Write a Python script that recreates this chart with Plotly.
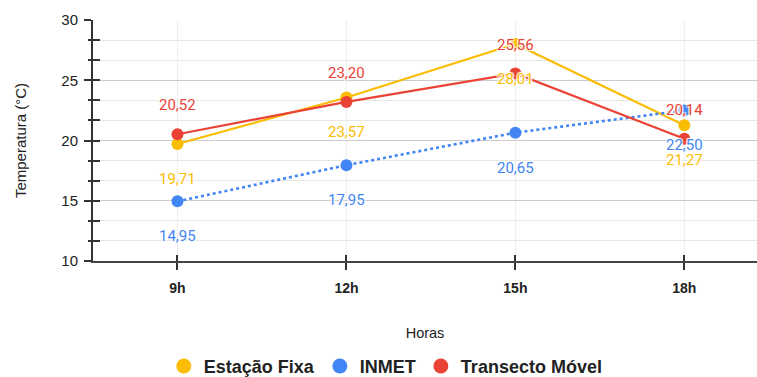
import plotly.graph_objects as go

horas = ["9h", "12h", "15h", "18h"]
estacao_fixa = [19.71, 23.57, 28.01, 21.27]
inmet = [14.95, 17.95, 20.65, 22.50]
transecto = [20.52, 23.20, 25.56, 20.14]

AMARELO = "#FBBC04"
AZUL = "#4285F4"
VERMELHO = "#EA4335"

xs = list(range(len(horas)))
fig = go.Figure()

# series (Google-like order: yellow, blue, red on top)
fig.add_trace(go.Scatter(x=xs, y=estacao_fixa, mode="lines+markers", showlegend=False,
                         line=dict(color=AMARELO, width=2.2), marker=dict(size=12, color=AMARELO)))
fig.add_trace(go.Scatter(x=xs, y=inmet, mode="lines+markers", showlegend=False,
                         line=dict(color=AZUL, width=2.6, dash="dot"), marker=dict(size=12, color=AZUL)))
fig.add_trace(go.Scatter(x=xs, y=transecto, mode="lines+markers", showlegend=False,
                         line=dict(color=VERMELHO, width=2.2), marker=dict(size=12, color=VERMELHO)))

# legend entries (just circles)
for nome, cor in [("Estação Fixa", AMARELO), ("INMET", AZUL), ("Transecto Móvel", VERMELHO)]:
    fig.add_trace(go.Scatter(x=[None], y=[None], mode="markers", name=nome,
                             marker=dict(size=15, color=cor), xaxis="x2", yaxis="y2"))

halo = "1px 1px 1px white, -1px -1px 1px white, 1px -1px 1px white, -1px 1px 1px white"

def fmt(v):
    return f"{v:.2f}".replace(".", ",")

# data labels
for serie, cor, shift in [(estacao_fixa, AMARELO, -35), (inmet, AZUL, -35), (transecto, VERMELHO, 29)]:
    for x, v in zip(xs, serie):
        fig.add_annotation(x=x, y=v, text=fmt(v), showarrow=False, yshift=shift,
                           font=dict(family="Roboto", size=15, color=cor, shadow=halo))

eixo_y = dict(range=[10, 30], tick0=10, dtick=5)
eixo_x = dict(range=[-0.5, 3.43])

fig.update_layout(
    width=757, height=377,
    margin=dict(l=93, r=0, t=20, b=116, autoexpand=False),
    plot_bgcolor="white", paper_bgcolor="white",
    font=dict(family="Arial", color="#222222"),
    xaxis=dict(**eixo_x, tickmode="array", tickvals=xs, ticktext=horas, automargin=False,
               showline=True, linecolor="#444444", linewidth=2,
               ticks="outside", ticklen=7, tickcolor="#333333", tickwidth=1.5,
               ticklabelstandoff=6,
               tickfont=dict(size=14, weight="bold", color="#222222"),
               showgrid=True, gridcolor="#eeeeee", gridwidth=1, zeroline=False,
               title=dict(text="Horas", font=dict(size=14.5), standoff=33)),
    yaxis=dict(**eixo_y, showline=True, linecolor="#333333", linewidth=2, automargin=False,
               ticks="outside", ticklen=7, tickcolor="#333333", tickwidth=1.5,
               ticklabelstandoff=3,
               tickfont=dict(size=15, color="#222222"),
               showgrid=True, gridcolor="#cccccc", gridwidth=1, zeroline=False,
               minor=dict(dtick=5 / 3, tick0=10, ticks="outside", ticklen=3,
                          tickcolor="#333333", showgrid=True, gridcolor="#e6e6e6"),
               title=dict(text="Temperatura (°C)", font=dict(size=15), standoff=31)),
    # overlay axes to make the ticks cross the axis lines
    xaxis2=dict(**eixo_x, overlaying="x", anchor="y2", side="bottom", tickmode="array",
                tickvals=xs, ticks="inside", ticklen=6, tickcolor="#333333", tickwidth=1.5,
                showticklabels=False, showgrid=False, showline=False, zeroline=False, automargin=False),
    yaxis2=dict(**eixo_y, overlaying="y", anchor="x2", side="left",
                ticks="inside", ticklen=7, tickcolor="#333333", tickwidth=1.5,
                minor=dict(dtick=5 / 3, tick0=10, ticks="inside", ticklen=7, tickcolor="#333333"),
                showticklabels=False, showgrid=False, showline=False, zeroline=False, automargin=False),
    legend=dict(orientation="h", x=0.441, xanchor="center", y=-0.36, yanchor="top",
                font=dict(size=18, weight="bold", color="#222222"), itemsizing="trace"),
)

# page body has a default 8px margin; drop it so the figure sits at the window corner
fig.write_html("out.html", config={"displayModeBar": False},
               post_script="document.body.style.margin='0';document.body.style.overflow='hidden';")
